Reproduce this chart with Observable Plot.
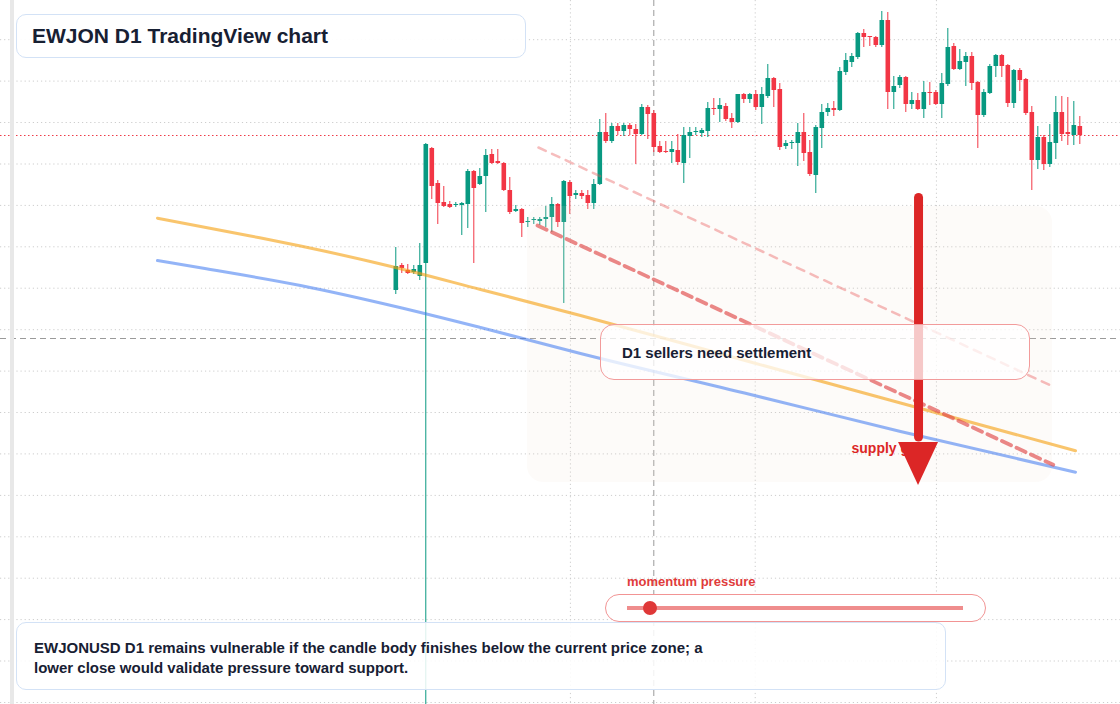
<!DOCTYPE html>
<html>
<head>
<meta charset="utf-8">
<script src="https://cdn.jsdelivr.net/npm/d3@7"></script>
<script src="https://cdn.jsdelivr.net/npm/@observablehq/plot@0.6"></script>
<style>
  html, body { margin: 0; padding: 0; background: #ffffff; }
  #wrap { position: relative; width: 1120px; height: 704px; overflow: hidden; font-family: "Liberation Sans", Arial, sans-serif; }
  #chart { position: absolute; left: 0; top: 0; }
  .band { position: absolute; left: 10px; top: 0; width: 4px; height: 704px; background: #e8e8e8; }
  .title { position: absolute; left: 16px; top: 14px; width: 510px; height: 44px; box-sizing: border-box;
    border: 1px solid #d3e2f6; border-radius: 10px; background: rgba(255,255,255,0.93);
    padding-left: 15px; line-height: 42px; font-size: 21px; font-weight: 700; color: #172033; }
  .note { position: absolute; left: 600px; top: 324px; width: 430px; height: 56px; box-sizing: border-box;
    border: 1px solid #f29b9b; border-radius: 14px; background: rgba(255,255,255,0.75);
    padding-left: 21px; line-height: 56px; font-size: 15px; font-weight: 700; color: #172033; }
  .mlabel { position: absolute; left: 627px; top: 574px; line-height: 16px; font-size: 13px; font-weight: 700; color: #e03b3b; }
  .pill { position: absolute; left: 605px; top: 594px; width: 381px; height: 28px; box-sizing: border-box;
    border: 1px solid #f29494; border-radius: 14px; background: #ffffff; }
  .track { position: absolute; left: 21px; top: 10.5px; width: 336px; height: 4px; background: #ef8d8d; }
  .knob { position: absolute; left: 37px; top: 5.5px; width: 14px; height: 14px; border-radius: 50%; background: #df3838; }
  .caption { position: absolute; left: 16px; top: 622px; width: 930px; height: 68px; box-sizing: border-box;
    border: 1px solid #d3e2f6; border-radius: 10px; background: rgba(255,255,255,0.86);
    padding: 15px 0 0 17px; line-height: 20px; font-size: 15px; font-weight: 700; color: #172033; }
</style>
</head>
<body>
<div id="wrap">
  <div id="chart"></div>
  <div class="band"></div>
  <div class="title">EWJON D1 TradingView chart</div>
  <div class="note">D1 sellers need settlement</div>
  <div class="mlabel">momentum pressure</div>
  <div class="pill"><div class="track"></div><div class="knob"></div></div>
  <div class="caption">EWJONUSD D1 remains vulnerable if the candle body finishes below the current price zone; a<br>lower close would validate pressure toward support.</div>
</div>
<script>
// ---- Candles (daily bars, index 0..114) ----
const candleOpen = [41.4,43.9,43.4,43.2,42.8,44.1,55.6,52.1,50.2,50.0,49.9,49.9,50.0,53.3,52.0,52.8,55.0,54.3,54.1,51.4,
  49.3,49.5,48.2,48.4,48.3,48.5,48.7,50.0,48.2,52.2,50.9,51.1,50.9,50.1,52.0,57.2,56.3,57.8,57.3,57.9,
  57.5,57.0,59.7,59.1,55.8,55.3,55.2,55.4,54.1,56.8,57.2,57.1,57.3,59.6,59.5,59.8,58.6,58.2,61.0,60.5,
  61.0,59.7,60.8,62.6,61.5,55.8,56.1,56.1,57.2,55.2,52.9,57.6,59.2,59.6,59.4,63.2,64.2,64.7,67.1,66.8,
  66.7,65.9,68.4,61.2,61.9,62.7,60.0,60.4,59.5,61.2,61.2,60.0,62.0,65.8,63.5,64.2,64.8,62.2,58.9,61.1,
  63.8,64.9,63.9,60.1,63.4,62.5,59.2,54.4,56.7,54.0,56.1,59.2,57.2,56.9,57.8];
const candleHigh = [45.7,44.1,44.0,43.9,46.1,56.1,55.7,52.4,51.8,50.3,50.2,50.2,53.5,53.4,53.6,55.5,55.5,55.5,54.2,52.7,
  49.9,49.6,48.7,48.7,48.7,49.8,50.7,50.1,52.4,52.4,51.4,51.4,51.4,52.5,58.5,59.1,58.1,58.1,58.1,58.1,
  58.0,60.0,59.9,59.4,56.3,56.3,56.3,57.0,57.7,57.7,57.7,57.6,60.2,60.6,60.6,60.1,59.1,61.0,61.1,61.1,
  61.4,61.7,64.0,62.7,62.1,56.4,56.4,58.1,59.1,56.4,57.9,60.0,60.1,60.3,63.7,65.1,65.1,67.2,67.5,66.8,
  66.8,69.3,69.2,62.8,62.9,62.8,61.2,61.1,62.3,62.2,61.4,63.1,67.6,66.1,65.5,65.2,65.2,62.3,61.5,64.0,
  65.0,65.0,64.0,63.5,63.6,62.6,59.8,57.8,56.9,58.0,60.8,60.8,60.7,60.3,58.8];
const candleLow = [41.0,43.1,43.0,43.0,42.4,0.0,50.5,48.0,49.7,49.6,49.7,46.9,47.6,44.1,51.9,49.2,54.0,54.0,51.3,49.0,
  49.2,46.7,47.7,48.0,47.9,47.7,47.2,47.7,40.1,49.0,50.5,50.5,49.5,49.5,51.9,56.1,56.1,56.9,56.8,56.9,
  54.0,56.9,56.5,55.2,55.1,55.1,54.1,53.9,52.1,54.6,56.9,56.7,56.7,58.9,58.2,58.3,57.6,58.1,60.1,60.1,
  59.4,58.0,60.6,59.7,55.4,55.5,55.5,53.8,54.3,52.8,51.1,55.6,58.8,58.8,59.3,62.9,63.7,64.5,65.7,65.8,
  65.7,65.7,59.5,59.5,61.6,59.2,59.5,59.4,58.6,59.9,59.9,58.6,61.8,63.4,63.4,61.8,61.4,55.6,58.7,61.0,
  62.7,62.7,59.7,59.6,61.3,58.9,51.4,53.5,53.4,53.7,54.5,56.3,55.9,55.9,56.0];
const candleClose = [43.8,43.6,43.1,43.5,43.9,56.0,51.8,50.1,49.8,49.7,50.0,50.1,53.3,51.6,52.8,54.9,54.1,54.1,51.4,49.2,
  49.5,48.1,48.3,48.5,48.5,48.7,50.0,48.2,52.3,50.8,51.1,50.8,50.1,52.0,57.2,56.3,57.8,57.3,57.9,57.5,
  57.0,59.7,59.0,55.7,55.2,55.2,55.5,54.2,56.9,57.2,57.3,57.4,59.6,59.5,59.9,58.5,58.2,61.0,60.5,61.0,
  59.7,61.0,62.6,61.4,55.7,56.1,56.2,57.2,55.1,53.0,57.7,59.2,59.6,59.4,63.3,64.4,64.8,67.1,66.7,66.7,
  65.9,68.4,61.2,61.8,62.7,60.0,60.4,59.5,61.2,61.1,60.0,62.1,65.7,63.5,64.3,64.8,62.1,58.9,61.2,63.8,
  64.9,63.8,60.1,63.4,62.4,59.1,54.4,56.7,54.0,56.2,59.2,57.0,57.0,57.9,56.9];

// ---- Reference levels ----
const gridLevels = [0.2,4.35,8.49,12.63,16.77,20.91,25.06,29.2,33.34,37.48,41.63,45.77,49.91,54.05,58.2,62.34,66.48];
const gridBars = [29.1, 59.9, 90.1];
const crosshairBar = [43];
const crosshairPrice = [36.6];

// ---- Moving averages (bar index, price) ----
const orangeBar = [-39.72,-24.22,-15.88,-0.05,14.12,30.78,59.12,84.12,113.28];
const orangeVal = [48.63,46.85,45.85,43.70,41.50,38.90,34.25,30.15,25.37];
const blueBar   = [-39.72,-32.55,-15.88,-0.05,14.12,30.78,59.12,84.12,113.28];
const blueVal   = [44.40,43.67,41.90,39.80,37.70,35.10,31.00,27.30,23.23];

// ---- Trend lines ----
const trendStrongBar = [23.62, 109.57];
const trendStrongVal = [47.9, 23.97];
const trendLightBar = [23.78, 109.4];
const trendLightVal = [55.7, 31.83];

// ---- Supply zone and arrow ----
const zoneBars = [21.95, 109.45];
const zoneVals = [22.2, 49.8];
const arrowBar = [87.12];
const arrowFrom = [50.65];
const arrowTo = [21.9];
const arrowHeadBase = [26.2];
const arrowHeadHalf = [3.33];
const zoneLabel = ["supply gate"];
const zoneLabelBar = [75.95];
const zoneLabelVal = [25.6];

const GREEN = "#089981", RED = "#f23645";
const candles = candleOpen.map((o, i) => ({
  i, open: o, high: candleHigh[i], low: candleLow[i], close: candleClose[i],
  color: candleClose[i] >= o ? GREEN : RED
}));
const lastClose = [candleClose[candleClose.length - 1]];
const orange = orangeBar.map((b, k) => ({b, v: orangeVal[k]}));
const blue = blueBar.map((b, k) => ({b, v: blueVal[k]}));
const strong = trendStrongBar.map((b, k) => ({b, v: trendStrongVal[k]}));
const light = trendLightBar.map((b, k) => ({b, v: trendLightVal[k]}));
const zone = [{x1: zoneBars[0], x2: zoneBars[1], y1: zoneVals[0], y2: zoneVals[1]}];
const head = [
  {y: arrowHeadBase[0], x1: arrowBar[0] - arrowHeadHalf[0], x2: arrowBar[0] + arrowHeadHalf[0]},
  {y: arrowTo[0], x1: arrowBar[0], x2: arrowBar[0]}
];
const shaft = [{x: arrowBar[0], y1: arrowHeadBase[0] + 0.5, y2: arrowFrom[0]}];

const chart = Plot.plot({
  width: 1120,
  height: 704,
  margin: 0,
  style: {background: "transparent"},
  x: {domain: [-65.88, 120.78], axis: null},
  y: {domain: [0, 70.4], axis: null},
  color: {type: "identity"},
  marks: [
    Plot.ruleY(gridLevels, {stroke: "#cdcdcd", strokeDasharray: "1.2,2.9"}),
    Plot.ruleX(gridBars, {stroke: "#cdcdcd", strokeDasharray: "1.2,2.9"}),
    Plot.ruleY(crosshairPrice, {stroke: "#9a9a9a", strokeDasharray: "6,4"}),
    Plot.ruleX(crosshairBar, {stroke: "#9a9a9a", strokeDasharray: "6,4"}),
    Plot.ruleY(lastClose, {stroke: "#ef3b48", strokeDasharray: "1.5,2.5"}),
    Plot.ruleX(candles, {x: "i", y1: "low", y2: "high", stroke: "color", strokeWidth: 1}),
    Plot.ruleX(candles, {x: "i", y1: "open", y2: "close", stroke: "color", strokeWidth: 4.6}),
    Plot.rect(zone, {x1: "x1", x2: "x2", y1: "y1", y2: "y2", fill: "#f2ddcb", fillOpacity: 0.12, rx: 16}),
    Plot.line(orange, {x: "b", y: "v", stroke: "#f59e0b", strokeOpacity: 0.6, strokeWidth: 3, curve: "monotone-x"}),
    Plot.line(blue, {x: "b", y: "v", stroke: "#3b76f0", strokeOpacity: 0.55, strokeWidth: 3, curve: "monotone-x"}),
    Plot.line(light, {x: "b", y: "v", stroke: "#e85a5a", strokeOpacity: 0.4, strokeWidth: 2.5, strokeDasharray: "8,7"}),
    Plot.line(strong, {x: "b", y: "v", stroke: "#e04848", strokeOpacity: 0.65, strokeWidth: 3.8, strokeDasharray: "10,6"}),
    Plot.text(zoneLabel, {x: zoneLabelBar, y: zoneLabelVal, text: d => d, fill: "#dc2626", fontWeight: "bold",
      fontSize: 14, textAnchor: "start", fontFamily: "Liberation Sans, Arial, sans-serif"}),
    Plot.ruleX(shaft, {x: "x", y1: "y1", y2: "y2", stroke: "#dc2626", strokeWidth: 9, strokeLinecap: "round"}),
    Plot.areaX(head, {y: "y", x1: "x1", x2: "x2", fill: "#dc2626"})
  ]
});
document.getElementById("chart").appendChild(chart);
</script>
</body>
</html>
